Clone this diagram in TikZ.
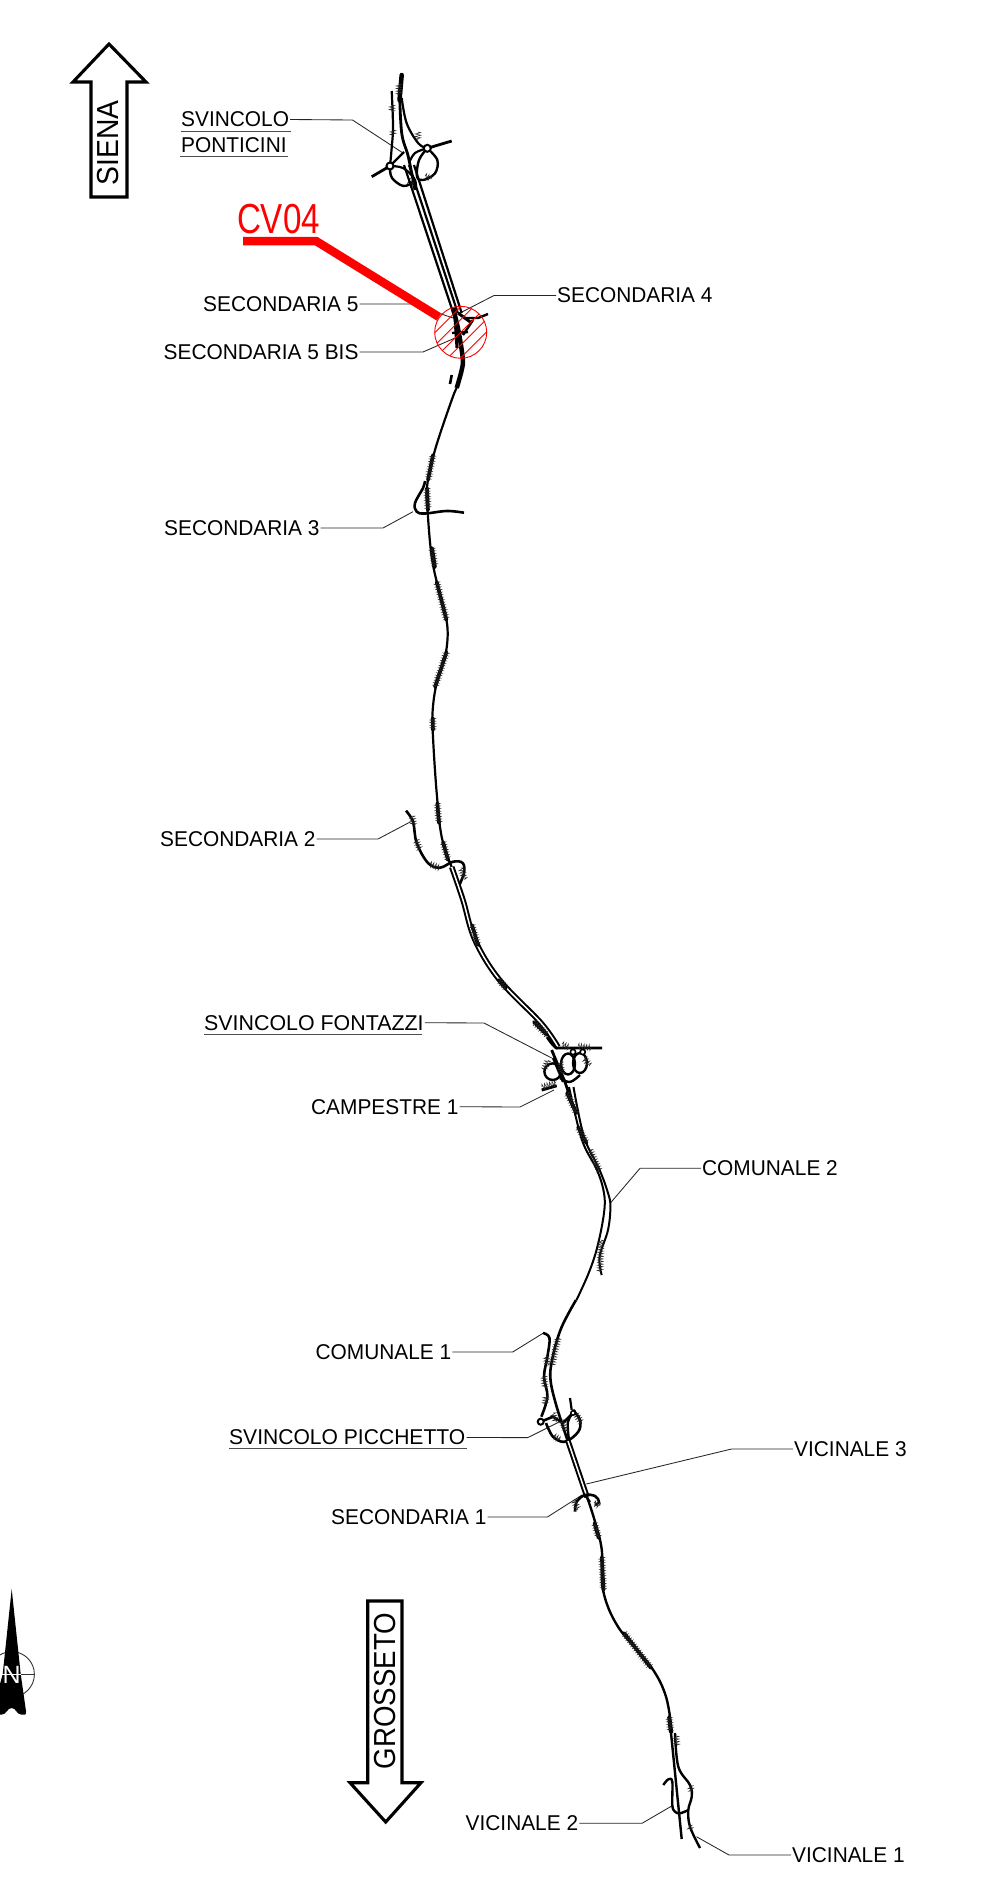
\documentclass[tikz,border=0pt]{standalone}
\usepackage{fontspec}
\setmainfont{Liberation Sans}
\usetikzlibrary{decorations.pathmorphing}
\tikzset{
  lbl/.style={anchor=west,inner ysep=0pt,inner xsep=1pt,xscale=.975,font=\fontsize{21.4}{21.4}\selectfont},
  leader/.style={line width=.85pt,black!85},
  uline/.style={line width=1pt,black!70},
  road/.style={line width=2.2pt,black,line join=round},
  heavy/.style={line width=3.6pt,black,line cap=round,line join=round},
  lane/.style={line width=2pt,double=white,double distance=1.5pt,black},
  hair/.style={line width=.5pt,black!85,decorate,decoration={zigzag,segment length=2.6pt,amplitude=2.8pt}},
  ring/.style={fill=white,draw=black,line width=2pt},
  bigarrow/.style={line width=3.1pt,black,fill=white,line join=miter},
}
\newcommand{\hairyseg}[2]{\draw[heavy] #1 -- #2; \draw[hair] #1 -- #2;}
\newcommand{\hairs}[1]{\foreach \xa/\ya/\xb/\yb in {#1} {\draw[hair] (\xa,\ya) -- (\xb,\yb);}}
\begin{document}
\begin{tikzpicture}[x=1pt,y=-1pt]
\clip (0,0) rectangle (1004,1877);
\fill[white] (0,0) rectangle (1004,1877);

% direction arrows
\draw[bigarrow] (109,44) -- (146,82) -- (127,82) -- (127,197) -- (91,197) -- (91,82) -- (73,82) -- cycle;
\node[rotate=90,xscale=.93,inner sep=0,font=\fontsize{30.4}{30.4}\selectfont] (siena) at (108.5,143) {SIENA};
\draw[bigarrow] (385.7,1822) -- (421,1782.7) -- (402,1782.7) -- (402,1601) -- (367.7,1601) -- (367.7,1782.7) -- (350,1782.7) -- cycle;
\node[rotate=90,xscale=.91,inner sep=0,font=\fontsize{30.4}{30.4}\selectfont] (grosseto) at (385.5,1691) {GROSSETO};

% north arrow
\draw[line width=.9pt,black!80] (11.7,1674.3) circle[radius=22.7];
\draw[line width=.9pt,black!80] (0,1674.3) -- (35,1674.3);
\fill[black] (11.7,1589) -- (15.5,1625) -- (20.7,1674) -- (26,1711) to[out=90,in=0] (25,1714.5) -- (21,1714.5) to[out=180,in=0] (11.7,1708) to[out=180,in=0] (2,1714.5) -- (-3,1714.5) -- (-3,1695) -- (2.7,1674) -- (7.9,1625) -- cycle;
\draw[white,line width=.7pt] (0,1674.3) -- (20.5,1674.3);
\node[white,inner sep=0,font=\fontsize{25}{25}\selectfont] (north) at (11.7,1675) {N};

% labels
\node[lbl] (ponta) at (180,119.5) {SVINCOLO};
\node[lbl] (pontb) at (180,145) {PONTICINI};
\node[lbl] (sec5) at (202,304) {SECONDARIA 5};
\node[lbl] (sec5b) at (162.5,352) {SECONDARIA 5 BIS};
\node[lbl] (sec4) at (556,295.5) {SECONDARIA 4};
\node[lbl] (sec3) at (163,528) {SECONDARIA 3};
\node[lbl] (sec2) at (159,839) {SECONDARIA 2};
\node[lbl,xscale=1.025] (fon) at (203,1022.7) {SVINCOLO FONTAZZI};
\node[lbl] (cam) at (310,1106.7) {CAMPESTRE 1};
\node[lbl] (com2) at (701,1168.3) {COMUNALE 2};
\node[lbl] (com1) at (314.5,1352) {COMUNALE 1};
\node[lbl,xscale=1.01] (pic) at (228,1437.5) {SVINCOLO PICCHETTO};
\node[lbl] (vic3) at (793,1449) {VICINALE 3};
\node[lbl] (sec1) at (330,1517) {SECONDARIA 1};
\node[lbl] (vic2) at (464.5,1823.3) {VICINALE 2};
\node[lbl] (vic1) at (791,1855) {VICINALE 1};

% underlines
\draw[uline] (181,131) -- (290.5,131);
\draw[uline] (180,156) -- (288,156);
\draw[uline] (204,1034) -- (422,1034);
\draw[uline] (229,1448) -- (466.5,1448);

% leader free ends
\coordinate (tpont) at (403,153);
\coordinate (tsec5) at (453,318);
\coordinate (tsec5b) at (455,338);
\coordinate (tsec4) at (460,313);
\coordinate (tsec3) at (413,511.7);
\coordinate (tsec2) at (410.7,821.7);
\coordinate (tfon) at (551.7,1058);
\coordinate (tcam) at (554,1090);
\coordinate (tcom2) at (610.4,1203);
\coordinate (tcom1) at (543.4,1333);
\coordinate (tpic) at (559.7,1421.7);
\coordinate (tvic3) at (586.3,1484);
\coordinate (tsec1) at (582,1495);
\coordinate (tvic2) at (671.7,1806);
\coordinate (tvic1) at (696.5,1836.7);

\draw[leader] (ponta.east) -- (352.5,120) -- (tpont);
\draw[leader] (sec5.east) -- (412,304) -- (tsec5);
\draw[leader] (sec5b.east) -- (423,352) -- (tsec5b);
\draw[leader] (sec4.west) -- (494,295.5) -- (tsec4);
\draw[leader] (sec3.east) -- (383,528) -- (tsec3);
\draw[leader] (sec2.east) -- (378,839) -- (tsec2);
\draw[leader] (fon.east) -- (484,1023) -- (tfon);
\draw[leader] (cam.east) -- (520,1107) -- (tcam);
\draw[leader] (com2.west) -- (640,1168.3) -- (tcom2);
\draw[leader] (com1.east) -- (512.7,1352) -- (tcom1);
\draw[leader] (pic.east) -- (527.8,1437.6) -- (tpic);
\draw[leader] (vic3.west) -- (731.5,1449) -- (tvic3);
\draw[leader] (sec1.east) -- (547.4,1517) -- (tsec1);
\draw[leader] (vic2.east) -- (642,1823.3) -- (tvic2);
\draw[leader] (vic1.west) -- (729,1855) -- (tvic1);

% Ponticini interchange
\draw[heavy,line width=4.5pt] (401.7,75) -- (399.5,100);
\draw[road] plot[smooth,tension=.6] coordinates {(391.7,91) (393,127) (391.5,150) (390,166)};
\draw[road,line width=2.8pt] plot[smooth,tension=.6] coordinates {(399.5,90) (401.7,133) (408.3,156.7) (415,190)};
\draw[road] plot[smooth,tension=.6] coordinates {(401.7,98) (406.7,123.3) (418.3,143.3) (427.3,148.3)};
\draw[road,line width=2.8pt] (371.7,176.7) -- (390,166);
\draw[road,line width=2.8pt] (427.3,148.3) -- (451.7,141);
\draw[road] plot[smooth,tension=.6] coordinates {(390,166) (398,158) (404,152)};
\draw[road] plot[smooth,tension=.6] coordinates {(427.3,148.3) (415,153) (409,163)};
\draw[road] plot[smooth,tension=.6] coordinates {(390,166) (403,168) (414,178) (416,186)};
\draw[road,line width=2.4pt] plot[smooth,tension=.6] coordinates {(390,168) (392,178) (403.3,186) (414,182)};
\draw[road,line width=2.4pt] plot[smooth,tension=.6] coordinates {(427.3,148.3) (437.3,160) (435,173.3) (423.3,180) (417,176.7) (419,160) (427.3,148.3)};
\hairs{392/105/392/112,393/130/393/136,399/84/399/95,418/132/418/140,425/176/432/179,408/180/414/186}
\draw[ring] (390,166) circle[radius=3.5];
\draw[ring] (427.3,148.3) circle[radius=3.5];

% three parallel lanes to the Secondaria 4 junction
\draw[road] (404,165) -- (453.3,313);
\draw[road] (409,165) -- (457.8,313);
\draw[road] (414,165) -- (461.7,313);

% junction in the circle
\draw[road,line width=4.5pt] plot[smooth,tension=.6] coordinates {(453,308) (458.3,330) (462.7,358) (461.7,370) (456.7,388)};
\draw[road,line width=3pt] (455,318) -- (457,348);
\draw[road,line width=2.4pt] (452,333) -- (468,332);
\draw[road,line width=3pt] (458,313) -- (471.7,323);
\draw[road,line width=2.4pt] (463,318) -- (478,318) -- (488,314);
\draw[road,line width=2.4pt] (473,320) -- (463,335);
\draw[road,line width=2.6pt] (451.7,375) -- (450,384);

% road from junction to Fontazzi
\draw[road] plot[smooth,tension=.6] coordinates {(456.7,388) (451.7,400) (435,450) (427,487) (428,517) (431.7,557) (438,587) (445,613) (447.7,633) (445,657) (436.7,683) (432.7,710) (433,737) (436.7,793) (441.7,837) (451.7,867)};
\hairyseg{(433,455)}{(428,480)}
\hairyseg{(427,488)}{(428,510)}
\hairyseg{(432,548)}{(435,567)}
\hairyseg{(436.7,582)}{(446.5,620)}
\hairyseg{(446.5,652)}{(435,687)}
\hairyseg{(432.7,718)}{(433,730)}
\hairyseg{(437.3,803)}{(439,823)}
\hairyseg{(443,842)}{(448,860)}

% Secondaria 3 loop
\draw[road,line width=2.6pt] plot[smooth,tension=.6] coordinates {(425,481) (423,488) (415,503) (416.7,511.7) (425,513.5) (446.7,511) (464,512.7)};

% Secondaria 2
\draw[road,line width=2.6pt] plot[smooth,tension=.6] coordinates {(406,810.7) (413,821.7) (416.7,843) (428,863) (440,867.7) (453,861.7) (462.7,863) (464,873) (458,888)};
\hairs{412/816/414/826,416/840/420/850,430/864/440/868,461/868/465/880}

% double road to Fontazzi
\draw[lane] plot[smooth,tension=.6] coordinates {(451.7,867) (463,900) (475,940) (499.6,980) (541,1023) (558,1047)};
\hairyseg{(472,925)}{(478,945)}
\hairyseg{(499,980)}{(506,988)}
\hairyseg{(534,1022)}{(547,1035)}

% Fontazzi interchange
\draw[road,line width=2.8pt] plot[smooth,tension=.6] coordinates {(547,1037) (555,1047) (562,1048) (602,1048)};
\draw[road,line width=2.8pt] plot[smooth,tension=.6] coordinates {(551.7,1050) (560,1070) (565,1082) (573,1107)};
\draw[road,line width=2.4pt] (552.7,1071.7) circle[radius=8.3];
\draw[road,line width=2.4pt] (568,1064) ellipse[x radius=7,y radius=10.5];
\draw[road,line width=2.4pt] (580,1063) ellipse[x radius=7,y radius=10];
\draw[road,line width=2.4pt] plot[smooth,tension=.6] coordinates {(560,1078) (570,1082) (580,1075)};
\draw[road,line width=3pt] (541.7,1090) -- (556.7,1085.7);
\draw[road] (563,1082) -- (553,1058);
\hairs{562/1044/570/1048,578/1046/592/1048,542/1087/556/1083,548/1060/544/1070,560/1062/562/1074,584/1058/590/1066}
\draw[ring,line width=1.6pt] (573,1052) circle[radius=2.6];
\draw[ring,line width=1.6pt] (582.7,1052) circle[radius=2.6];

% Comunale 2 section
\draw[road,line width=2pt] plot[smooth,tension=.6] coordinates {(569,1087) (582,1140) (597,1170) (604,1193) (604,1213) (597.4,1246.7) (588.7,1273) (576.5,1300)};
\draw[road,line width=2pt] plot[smooth,tension=.6] coordinates {(573.5,1087) (584,1136.7) (599.6,1170) (608,1193) (610.4,1206.7) (608,1230) (599.6,1256.7) (601.7,1275)};
\hairyseg{(567,1093)}{(576.5,1113)}
\hairyseg{(578,1127)}{(586.5,1143)}
\hairs{590/1150/600/1172,601/1240/600/1272}

% Picchetto interchange and road to south
\draw[road,line width=2.6pt] plot[smooth,tension=.6] coordinates {(576,1300) (561.8,1326.7) (553.6,1353) (550.3,1376.7) (555.6,1403) (568,1441.7)};
\draw[road,line width=2.6pt] plot[smooth,tension=.6] coordinates {(543,1333) (549.5,1338) (547.4,1356.7) (544,1376.7) (547.4,1396.7) (541.3,1416.7)};
\draw[road,line width=2.6pt] plot[smooth,tension=.6] coordinates {(546,1423) (553,1436.7) (565,1441.7) (578.3,1431.7) (580,1420) (573,1410)};
\draw[road,line width=2.4pt] plot[smooth,tension=.6] coordinates {(575,1410) (568,1421.7) (569,1440)};
\draw[road,line width=2.2pt] (570,1398) -- (571.7,1410);
\draw[road,line width=2.6pt] (540.7,1421.7) -- (553,1416.7) -- (563,1423) -- (573,1413);
\hairs{546/1356/548/1366,544/1376/545/1388,546/1396/545/1404,553/1413/556/1422,562/1420/566/1432,554/1436/560/1440,576/1414/582/1424,558/1338/552/1365}
\draw[ring] (540.7,1421.7) circle[radius=3];
\draw[ring,line width=1.5pt] (573,1413) circle[radius=2.2];
\draw[lane] (568,1441) -- (587,1497);
\draw[road,line width=2.4pt] plot[smooth,tension=.6] coordinates {(586.7,1496) (594.5,1520) (601.8,1550) (603,1590) (618,1626.7) (651,1666.7) (666,1696.7) (672,1733)};
\hairyseg{(594.5,1523)}{(598.6,1538)}
\hairyseg{(601.8,1557)}{(603.5,1590)}
\hairyseg{(624,1633)}{(651,1668)}
\hairyseg{(669,1717)}{(670.7,1732)}

% Secondaria 1
\draw[road,line width=2.6pt] plot[smooth,tension=.6] coordinates {(575,1511.7) (576.7,1501.7) (585,1495) (595,1496) (599,1501.7) (595,1505)};
\draw[road] (585,1495) -- (590,1502);
\hairs{574/1500/578/1510,594/1503/600/1506}

% Vicinali
\draw[road,line width=2.4pt] (670.7,1730) -- (681.7,1839);
\draw[road,line width=2.4pt] plot[smooth,tension=.6] coordinates {(675,1733) (678.3,1766.7) (690,1785) (691.7,1796.7) (688.3,1810) (690,1826.7) (700,1848)};
\draw[road,line width=2.4pt] plot[smooth,tension=.6] coordinates {(663.3,1785) (668.3,1779.3) (672.3,1781.7) (672.3,1805) (675,1811.7) (680,1813.3) (688.3,1810)};
\hairs{676/1736/677/1746,690/1786/692/1792,689/1826/691/1830}

% hatched circle
\begin{scope}
\clip (460.7,332.3) circle[radius=26];
\foreach \d in {-36,-27,...,36}
  \draw[red,line width=.9pt] ({460.7+.707*\d-32},{332.3+.707*\d+32}) -- ({460.7+.707*\d+32},{332.3+.707*\d-32});
\end{scope}
\draw[red,line width=.9pt] (460.7,332.3) circle[radius=26];

% CV04 callout
\node[red,xscale=.79,inner sep=0,font=\fontsize{42}{42}\selectfont] (cv) at (278.5,219) {CV04};
\coordinate (cvend) at (439,317);
\draw[red,line width=8.5pt,line join=miter] (243,241) -- (316,241) -- (cvend);
\end{tikzpicture}
\end{document}
